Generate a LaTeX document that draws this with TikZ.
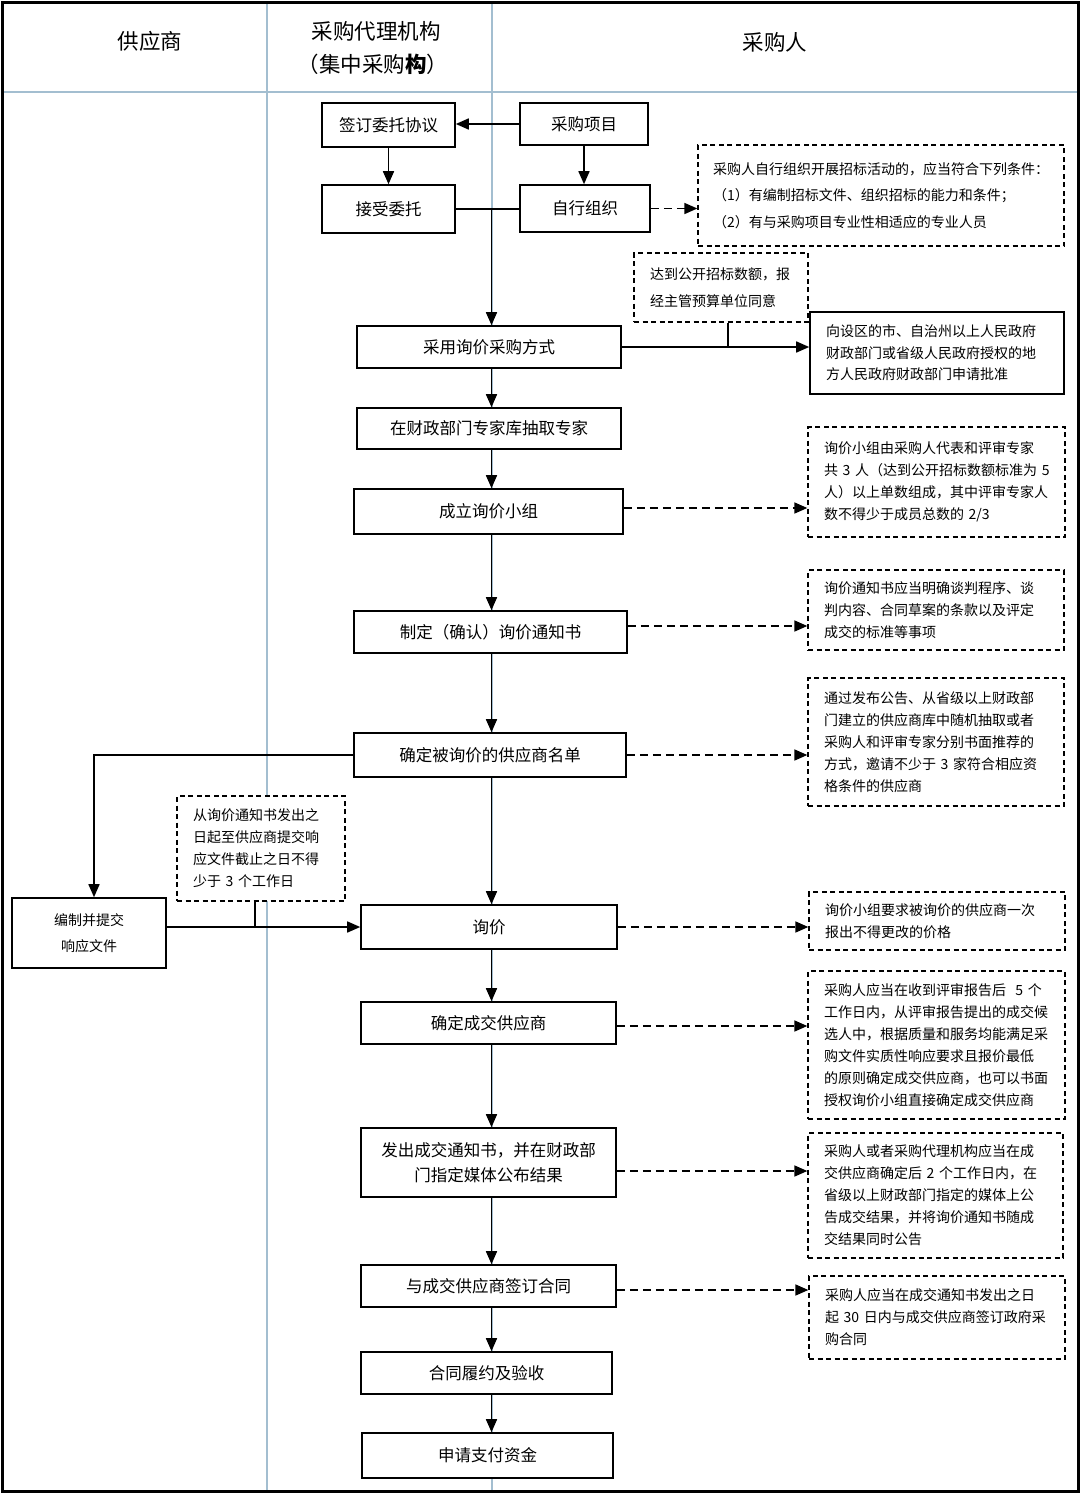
\documentclass[tikz,border=0pt]{standalone}
\usepackage{fontspec}
\setmainfont{Noto Sans CJK SC}
\usetikzlibrary{arrows.meta,calc}
\definecolor{lanecol}{HTML}{A3BED0}
\begin{document}
\begin{tikzpicture}[x=1pt,y=-1pt,
  proc/.style={draw=black, fill=white, line width=1.6pt, align=center, inner sep=0pt, font=\fontsize{16.5}{25}\selectfont},
  note/.style={draw=black, fill=white, line width=1.3pt, dash pattern=on 5pt off 3.5pt, align=left, inner xsep=16pt, inner ysep=0pt, font=\fontsize{14}{22}\selectfont},
  arr/.style={-{Triangle[length=13pt,width=11pt]}, line width=1.6pt},
  darr/.style={arr, dash pattern=on 8pt off 5pt},
  lane/.style={draw=lanecol, line width=1.2pt},
  head/.style={font=\fontsize{21.5}{26}\selectfont, inner sep=0pt}]
\useasboundingbox (0,0) rectangle (1080,1494);
\fill[white] (0,0) rectangle (1080,1494);
% lanes
\draw[lane] (267,3) -- (267,1490);
\draw[lane] (492,3) -- (492,1490);
\draw[lane, line width=1.8pt] (3,92) -- (1077,92);
\draw[black, line width=3pt] (2,2) rectangle (1078,1491);
% headers
\node[head] (h1) at (150,41) {供应商};
\node[head] (h2) at (376,31) {采购代理机构};
\node[head] (h3) at (373,64) {（集中采购{\bfseries 构}）};
\node[head] (h4) at (775,42) {采购人};
\coordinate (ax) at (491.5,0);
% process boxes
\node[proc, minimum width=133pt, minimum height=44pt] (p1) at (388.5,125) {签订委托协议};
\node[proc, minimum width=128pt, minimum height=42pt] (p2) at (584,124) {采购项目};
\node[proc, minimum width=133pt, minimum height=48pt] (p3) at (388.5,209) {接受委托};
\node[proc, minimum width=130pt, minimum height=47pt] (p4) at (585,208.5) {自行组织};
\node[proc, minimum width=264pt, minimum height=42pt] (p5) at (489,347) {采用询价采购方式};
\node[proc, minimum width=264pt, minimum height=41pt] (p6) at (489,428.5) {在财政部门专家库抽取专家};
\node[proc, minimum width=269pt, minimum height=45pt] (p7) at (488.5,511.5) {成立询价小组};
\node[proc, minimum width=273pt, minimum height=42pt] (p8) at (490.5,632) {制定（确认）询价通知书};
\node[proc, minimum width=272pt, minimum height=44pt] (p9) at (490,755) {确定被询价的供应商名单};
\node[proc, minimum width=256pt, minimum height=44pt] (p10) at (489,927) {询价};
\node[proc, minimum width=255pt, minimum height=42pt] (p11) at (488.5,1023) {确定成交供应商};
\node[proc, minimum width=255pt, minimum height=69pt] (p12) at (488.5,1162.5) {发出成交通知书，并在财政部\\门指定媒体公布结果};
\node[proc, minimum width=255pt, minimum height=42pt] (p13) at (488.5,1286) {与成交供应商签订合同};
\node[proc, minimum width=251pt, minimum height=42pt] (p14) at (486.5,1373) {合同履约及验收};
\node[proc, minimum width=251pt, minimum height=45pt] (p15) at (487.5,1455.5) {申请支付资金};
\node[proc, minimum width=154pt, minimum height=70pt, font=\fontsize{14}{25.5}\selectfont] (sup) at (89,933) {编制并提交\\响应文件};
\node[proc, align=left, minimum width=254pt, minimum height=82pt, text width=222pt, inner xsep=16pt, font=\fontsize{14}{21.5}\selectfont] (gov) at (937,353) {向设区的市、自治州以上人民政府\\财政部门或省级人民政府授权的地\\方人民政府财政部门申请批准};
% notes
\node[note, minimum width=366pt, minimum height=101pt, text width=336pt, inner xsep=15pt, font=\fontsize{14}{26.5}\selectfont] (n1) at (881,195.5) {采购人自行组织开展招标活动的，应当符合下列条件：\\（1）有编制招标文件、组织招标的能力和条件；\\（2）有与采购项目专业性相适应的专业人员};
\node[note, minimum width=174pt, minimum height=69pt, text width=142pt, font=\fontsize{14}{27}\selectfont] (n2) at (721,287.5) {达到公开招标数额，报\\经主管预算单位同意};
\node[note, minimum width=257pt, minimum height=110pt, text width=225pt] (n3) at (936.5,482) {询价小组由采购人代表和评审专家\\共~3~人（达到公开招标数额标准为~5\\人）以上单数组成，其中评审专家人\\数不得少于成员总数的~2/3};
\node[note, minimum width=256pt, minimum height=80pt, text width=224pt] (n4) at (936,610) {询价通知书应当明确谈判程序、谈\\判内容、合同草案的条款以及评定\\成交的标准等事项};
\node[note, minimum width=256pt, minimum height=128pt, text width=224pt] (n5) at (936,742) {通过发布公告、从省级以上财政部\\门建立的供应商库中随机抽取或者\\采购人和评审专家分别书面推荐的\\方式，邀请不少于~3~家符合相应资\\格条件的供应商};
\node[note, minimum width=168pt, minimum height=105pt, text width=136pt] (n6) at (261,848.5) {从询价通知书发出之\\日起至供应商提交响\\应文件截止之日不得\\少于~3~个工作日};
\node[note, minimum width=256pt, minimum height=58pt, text width=224pt] (n7) at (937,921) {询价小组要求被询价的供应商一次\\报出不得更改的价格};
\node[note, minimum width=257pt, minimum height=148pt, text width=225pt] (n8) at (936.5,1045) {采购人应当在收到评审报告后~~5~个\\工作日内，从评审报告提出的成交候\\选人中，根据质量和服务均能满足采\\购文件实质性响应要求且报价最低\\的原则确定成交供应商，也可以书面\\授权询价小组直接确定成交供应商};
\node[note, minimum width=255pt, minimum height=125pt, text width=223pt] (n9) at (935.5,1195.5) {采购人或者采购代理机构应当在成\\交供应商确定后~2~个工作日内，在\\省级以上财政部门指定的媒体上公\\告成交结果，并将询价通知书随成\\交结果同时公告};
\node[note, minimum width=256pt, minimum height=83pt, text width=224pt] (n10) at (937,1317.5) {采购人应当在成交通知书发出之日\\起~30~日内与成交供应商签订政府采\\购合同};
\coordinate (supin) at ([xshift=5pt]sup.north);
\coordinate (n2out) at ([xshift=7pt]n2.south);
\coordinate (n6out) at ([xshift=-6pt]n6.south);
% connectors top
\draw[arr] (p2.west) -- (p2.west -| p1.east);
\draw[arr] (p1.south) -- (p3.north);
\draw[arr] (p2.south) -- (p2.south |- p4.north);
\draw[line width=1.6pt] (p3.east) -- (p3.east -| p4.west);
\draw[arr] (p3.east -| ax) -- (p5.north -| ax);
\draw[darr] (p4.east) -- (p4.east -| n1.west);
\draw[arr] (p5.east) -- (p5.east -| gov.west);
\draw[line width=1.6pt] (n2out) -- (n2out |- p5.east);
% main chain
\draw[arr] (p5.south -| ax) -- (p6.north -| ax);
\draw[arr] (p6.south -| ax) -- (p7.north -| ax);
\draw[arr] (p7.south -| ax) -- (p8.north -| ax);
\draw[arr] (p8.south -| ax) -- (p9.north -| ax);
\draw[arr] (p9.south -| ax) -- (p10.north -| ax);
\draw[arr] (p10.south -| ax) -- (p11.north -| ax);
\draw[arr] (p11.south -| ax) -- (p12.north -| ax);
\draw[arr] (p12.south -| ax) -- (p13.north -| ax);
\draw[arr] (p13.south -| ax) -- (p14.north -| ax);
\draw[arr] (p14.south -| ax) -- (p15.north -| ax);
% dashed side connectors
\draw[darr] ([yshift=3.5pt]p7.east) -- ([yshift=3.5pt]p7.east -| n3.west);
\draw[darr] ([yshift=6pt]p8.east) -- ([yshift=6pt]p8.east -| n4.west);
\draw[darr] (p9.east) -- (p9.east -| n5.west);
\draw[darr] (p10.east) -- (p10.east -| n7.west);
\draw[darr] ([yshift=-3pt]p11.east) -- ([yshift=-3pt]p11.east -| n8.west);
\draw[darr] ([yshift=-8.5pt]p12.east) -- ([yshift=-8.5pt]p12.east -| n9.west);
\draw[darr] ([yshift=-4pt]p13.east) -- ([yshift=-4pt]p13.east -| n10.west);
% supplier branch
\draw[arr] (p9.west) -- (p9.west -| supin) -- (supin);
\draw[arr] (sup.east |- p10.west) -- (p10.west);
\draw[line width=1.6pt] (n6out) -- (n6out |- p10.west);
\end{tikzpicture}
\end{document}
